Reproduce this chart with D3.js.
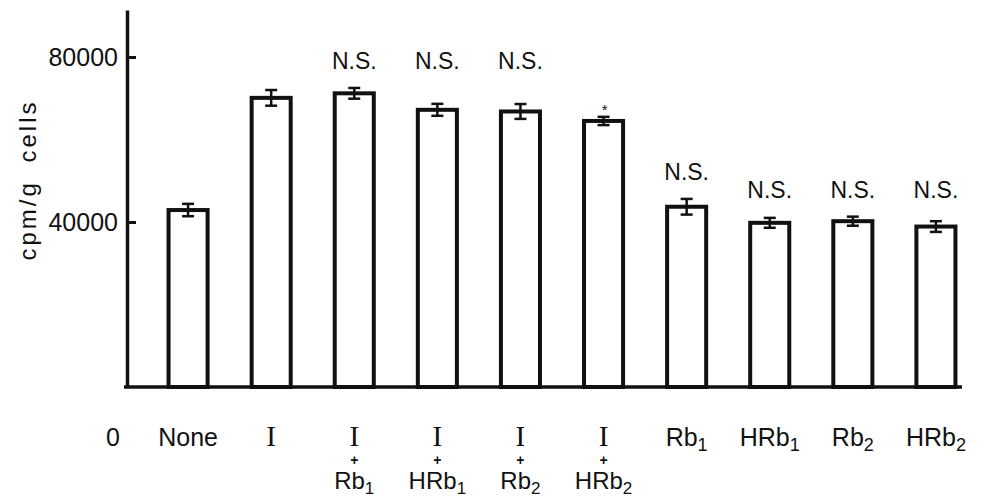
<!DOCTYPE html>
<html>
<head>
<meta charset="utf-8">
<script src="https://cdn.jsdelivr.net/npm/d3@7"></script>
<style>
  html, body { margin: 0; padding: 0; background: #fff; }
  svg { display: block; }
  text { font-family: "Liberation Sans", Arial, sans-serif; fill: #111; }
</style>
</head>
<body>
<svg id="chart" width="989" height="497"></svg>
<script>
// ---- data ----
const categories = ["None", "I", "I+Rb1", "I+HRb1", "I+Rb2", "I+HRb2", "Rb1", "HRb1", "Rb2", "HRb2"];
const values     = [42900, 70100, 71200, 67200, 66800, 64500, 43700, 39800, 40200, 38900];
const errors     = [1500, 1900, 1300, 1450, 1800, 1000, 1900, 1200, 1100, 1300];
const marks      = ["", "", "N.S.", "N.S.", "N.S.", "*", "N.S.", "N.S.", "N.S.", "N.S."];
const markGroups = [0, 0, 1, 1, 1, 2, 3, 4, 4, 4];
const labelTop    = ["None", "I", "I", "I", "I", "I", "Rb", "HRb", "Rb", "HRb"];
const labelTopSub = ["", "", "", "", "", "", "1", "1", "2", "2"];
const labelBot    = ["", "", "Rb", "HRb", "Rb", "HRb", "", "", "", ""];
const labelBotSub = ["", "", "1", "1", "2", "2", "", "", "", ""];
const yTicks = [40000, 80000];
const yLabel = "cpm/g cells";

// ---- layout ----
const svg = d3.select("#chart");
const axisX = 127, baseY = 387, topY = 10;
const row1 = 446, rowPlus = 465, row2 = 489;

const x = d3.scaleBand().domain(categories).range([127, 997]).paddingInner(0.53).paddingOuter(0.5);
const y = d3.scaleLinear().domain([0, 91400]).range([baseY, topY]);

// y axis
const yAxis = d3.axisLeft(y).tickValues(yTicks).tickSize(-9).tickSizeOuter(0).tickPadding(9)
  .tickFormat(d3.format("d"));
const gy = svg.append("g").attr("transform", `translate(${axisX},0)`).call(yAxis);
gy.select(".domain").attr("stroke", "#111").attr("stroke-width", 3.5);
gy.selectAll(".tick line").attr("stroke", "#111").attr("stroke-width", 3);
gy.selectAll(".tick text").style("font-size", "25px").style("font-family", "Liberation Sans, Arial, sans-serif").attr("fill", "#111");

// y label
svg.append("text")
  .attr("transform", `translate(36,180) rotate(-90)`)
  .attr("text-anchor", "middle")
  .style("font-size", "24px")
  .style("letter-spacing", "3px")
  .style("word-spacing", "8px")
  .text(yLabel);

// bars
svg.append("g").selectAll("rect").data(categories).join("rect")
  .attr("x", d => x(d))
  .attr("y", (d, i) => y(values[i]))
  .attr("width", x.bandwidth())
  .attr("height", (d, i) => baseY - y(values[i]))
  .attr("fill", "#fff")
  .attr("stroke", "#111")
  .attr("stroke-width", 4);

// baseline
svg.append("line").attr("x1", axisX - 3).attr("x2", 962).attr("y1", baseY).attr("y2", baseY)
  .attr("stroke", "#111").attr("stroke-width", 3.5);

// error bars
const eg = svg.append("g").attr("stroke", "#111").attr("stroke-width", 2.5);
categories.forEach((c, i) => {
  const cx = x(c) + x.bandwidth() / 2;
  const y1 = y(values[i] + errors[i]), y2 = y(values[i] - errors[i]);
  eg.append("line").attr("x1", cx).attr("x2", cx).attr("y1", y1).attr("y2", y2);
  eg.append("line").attr("x1", cx - 6).attr("x2", cx + 6).attr("y1", y1).attr("y2", y1);
  eg.append("line").attr("x1", cx - 6).attr("x2", cx + 6).attr("y1", y2).attr("y2", y2);
});

// significance marks, aligned per group
const groupTop = {};
categories.forEach((c, i) => {
  const t = y(values[i] + errors[i]);
  const g = markGroups[i];
  groupTop[g] = groupTop[g] === undefined ? t : Math.min(groupTop[g], t);
});
categories.forEach((c, i) => {
  if (!marks[i]) return;
  const cx = x(c) + x.bandwidth() / 2;
  const isStar = marks[i] === "*";
  svg.append("text")
    .attr("x", cx + (isStar ? 1 : 0))
    .attr("y", groupTop[markGroups[i]] - (isStar ? 2 : 19))
    .attr("text-anchor", "middle")
    .style("font-size", isStar ? "15px" : "23px")
    .text(marks[i]);
});

// zero label
svg.append("text").attr("x", 113).attr("y", row1).attr("text-anchor", "middle")
  .style("font-size", "25px").text("0");

// category labels
categories.forEach((c, i) => {
  const cx = x(c) + x.bandwidth() / 2;
  const t = svg.append("text").attr("x", cx).attr("y", row1).attr("text-anchor", "middle")
    .style("font-size", "25px");
  if (labelTop[i] === "I") {
    t.style("font-family", "Liberation Serif, Times New Roman, serif").style("font-size", "29px").text("I");
  } else {
    t.append("tspan").text(labelTop[i]);
    if (labelTopSub[i]) t.append("tspan").attr("dy", 5).style("font-size", "18px").text(labelTopSub[i]);
  }
  if (labelBot[i]) {
    svg.append("text").attr("x", cx).attr("y", rowPlus).attr("text-anchor", "middle")
      .style("font-size", "14px").style("font-weight", "bold").text("+");
    const b = svg.append("text").attr("x", cx).attr("y", row2).attr("text-anchor", "middle")
      .style("font-size", "24px");
    b.append("tspan").text(labelBot[i]);
    b.append("tspan").attr("dy", 5).style("font-size", "17px").text(labelBotSub[i]);
  }
});
</script>
</body>
</html>
